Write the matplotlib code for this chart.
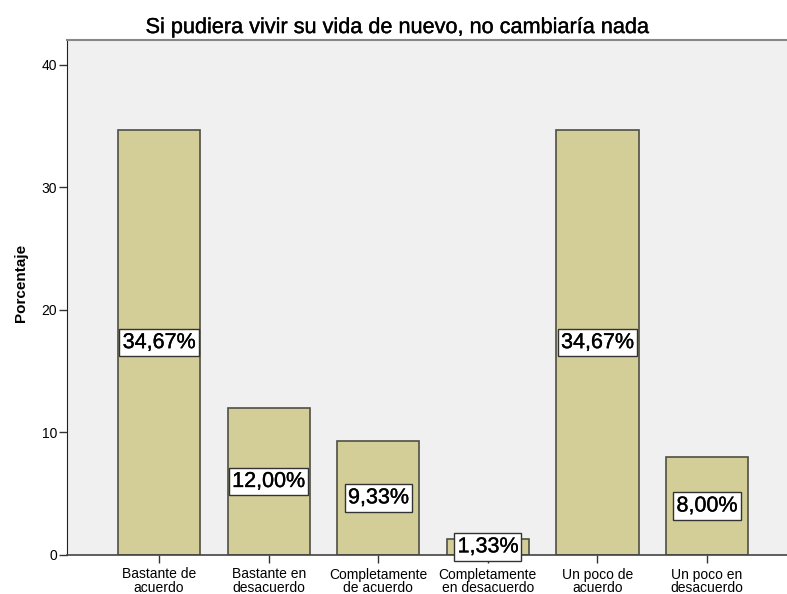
import matplotlib
matplotlib.use('Agg')
import matplotlib.pyplot as plt
import matplotlib.patheffects as pe

plt.rcParams['font.family'] = ['Liberation Sans', 'DejaVu Sans']

categories = ['Bastante de\nacuerdo', 'Bastante en\ndesacuerdo', 'Completamente\nde acuerdo',
              'Completamente\nen desacuerdo', 'Un poco de\nacuerdo', 'Un poco en\ndesacuerdo']
values = [34.67, 12.00, 9.33, 1.33, 34.67, 8.00]
labels = ['34,67%', '12,00%', '9,33%', '1,33%', '34,67%', '8,00%']

heavy = [pe.withStroke(linewidth=0.25, foreground='black')]

fig = plt.figure(figsize=(7.87, 5.94), dpi=100)
ax = fig.add_axes([67 / 787, 1 - 555 / 594, 1 - 67 / 787, (555 - 40) / 594])
ax.set_facecolor('#f0f0f0')

x = list(range(len(values)))
ax.bar(x, values, width=0.75, color='#d3ce97', edgecolor='#4f4f45', linewidth=1.2, zorder=2)

for xi, v, lab in zip(x, values, labels):
    ax.text(xi, v / 2, lab, ha='center', va='center', fontsize=15.5, zorder=3, path_effects=heavy,
            bbox=dict(boxstyle='square,pad=0.15', facecolor='white', edgecolor='#333333', linewidth=1))

ax.set_xlim(-0.84, 5.73)
ax.set_ylim(0, 42.04)
ax.set_yticks([0, 10, 20, 30, 40])
ax.set_xticks(x)
ax.set_xticklabels(categories, fontsize=10, linespacing=0.92)
ax.tick_params(axis='y', labelsize=10, length=6, width=1, color='#333333', pad=1)
ax.tick_params(axis='x', length=6, width=1, color='#333333', pad=3)

ax.spines['right'].set_visible(False)
ax.spines['top'].set_color('#888888')
ax.spines['top'].set_linewidth(1.5)
ax.spines['left'].set_color('#222222')
ax.spines['bottom'].set_color('#444444')
ax.spines['bottom'].set_linewidth(1.2)

ax.set_ylabel('Porcentaje', fontsize=11, fontweight='bold')
ax.yaxis.set_label_coords(-0.054, 0.528)
ax.set_title('Si pudiera vivir su vida de nuevo, no cambiaría nada', fontsize=15.6, pad=5, x=0.458,
             path_effects=heavy)

fig.savefig('out.png', dpi=100)
